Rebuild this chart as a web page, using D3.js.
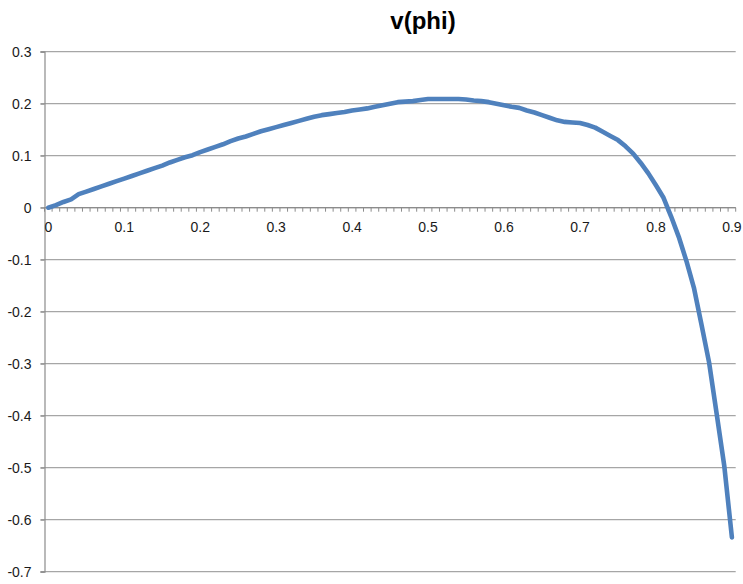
<!DOCTYPE html>
<html>
<head>
<meta charset="utf-8">
<script src="https://cdn.jsdelivr.net/npm/d3@7"></script>
<style>
  body { margin: 0; background: #fff; }
  text { font-family: "Liberation Sans", Arial, sans-serif; }
</style>
</head>
<body>
<div id="chart"></div>
<script>
// phi categories 0.00 .. 0.90 (step 0.01), labelled every 0.1
const phi = d3.range(91).map(i => (i / 100).toFixed(2))
const xLabels = ['0', '0.1', '0.2', '0.3', '0.4', '0.5', '0.6', '0.7', '0.8', '0.9']
const yTicks = [0.3, 0.2, 0.1, 0, -0.1, -0.2, -0.3, -0.4, -0.5, -0.6, -0.7]

// v(phi)
const v = [
  0.000, 0.005, 0.011, 0.016, 0.026, 0.031, 0.036, 0.041, 0.046, 0.051,
  0.056, 0.061, 0.066, 0.071, 0.076, 0.081, 0.087, 0.092, 0.097, 0.101,
  0.107, 0.112, 0.117, 0.122, 0.128, 0.133, 0.137, 0.142, 0.147, 0.151,
  0.155, 0.159, 0.163, 0.167, 0.171, 0.175, 0.178, 0.180, 0.182, 0.184,
  0.187, 0.189, 0.191, 0.194, 0.197, 0.200, 0.203, 0.204, 0.205, 0.207,
  0.209, 0.209, 0.209, 0.209, 0.209, 0.208, 0.206, 0.205, 0.203, 0.200,
  0.197, 0.194, 0.192, 0.187, 0.183, 0.178, 0.173, 0.168, 0.165, 0.164,
  0.163, 0.159, 0.154, 0.146, 0.138, 0.130, 0.118, 0.104, 0.086, 0.066,
  0.043, 0.019, -0.017, -0.056, -0.102, -0.154, -0.225, -0.298, -0.397, -0.497,
  -0.634
]

const width = 743, height = 584
const margin = { top: 51.7, right: 7.3, bottom: 12.3, left: 44.5 }

const svg = d3.select('#chart').append('svg')
  .attr('width', width)
  .attr('height', height)

const x = d3.scaleBand()
  .domain(phi)
  .range([margin.left, width - margin.right])
const y = d3.scaleLinear()
  .domain([-0.7, 0.3])
  .range([height - margin.bottom, margin.top])

// gridlines
svg.append('g').selectAll('line')
  .data(yTicks)
  .join('line')
  .attr('x1', margin.left - 4)
  .attr('x2', width - margin.right)
  .attr('y1', d => y(d))
  .attr('y2', d => y(d))
  .attr('stroke', '#a6a6a6')
  .attr('stroke-width', 1.2)

// y axis (plain hyphen for negatives, like the original)
const yAxis = svg.append('g')
  .attr('transform', `translate(${margin.left},0)`)
  .call(d3.axisLeft(y).tickValues(yTicks).tickSize(4).tickFormat(d => d === 0 ? '0' : d.toFixed(1)))
yAxis.select('.domain').attr('stroke', '#8c8c8c').attr('stroke-width', 1.2)
yAxis.selectAll('.tick line').attr('stroke', '#8c8c8c')
yAxis.selectAll('.tick text')
  .attr('x', -13)
  .attr('fill', '#1a1a1a')
  .style('font-size', '14px')

// x axis at v = 0, minor ticks at every category boundary
const xg = svg.append('g')
  .attr('transform', `translate(0,${y(0)})`)
xg.append('line')
  .attr('x1', margin.left)
  .attr('x2', width - margin.right)
  .attr('stroke', '#8c8c8c')
  .attr('stroke-width', 1.2)
xg.selectAll('line.minor')
  .data(phi.concat(['end']))
  .join('line')
  .attr('class', 'minor')
  .attr('x1', (d, i) => margin.left + i * x.bandwidth())
  .attr('x2', (d, i) => margin.left + i * x.bandwidth())
  .attr('y1', 0)
  .attr('y2', 4)
  .attr('stroke', '#8c8c8c')
xg.selectAll('text')
  .data(xLabels)
  .join('text')
  .attr('x', (d, i) => x(phi[i * 10]) + x.bandwidth() / 2)
  .attr('y', 24)
  .attr('text-anchor', 'middle')
  .attr('fill', '#1a1a1a')
  .style('font-size', '14px')
  .text(d => d)

// the curve
const line = d3.line()
  .x((d, i) => x(phi[i]) + x.bandwidth() / 2)
  .y(d => y(d))
svg.append('path')
  .datum(v)
  .attr('d', line)
  .attr('fill', 'none')
  .attr('stroke', '#4f81bd')
  .attr('stroke-width', 4.6)
  .attr('stroke-linejoin', 'round')
  .attr('stroke-linecap', 'round')

// title
svg.append('text')
  .attr('x', 423)
  .attr('y', 29)
  .attr('text-anchor', 'middle')
  .attr('font-weight', 'bold')
  .style('font-size', '24px')
  .attr('fill', '#000')
  .text('v(phi)')
</script>
</body>
</html>
